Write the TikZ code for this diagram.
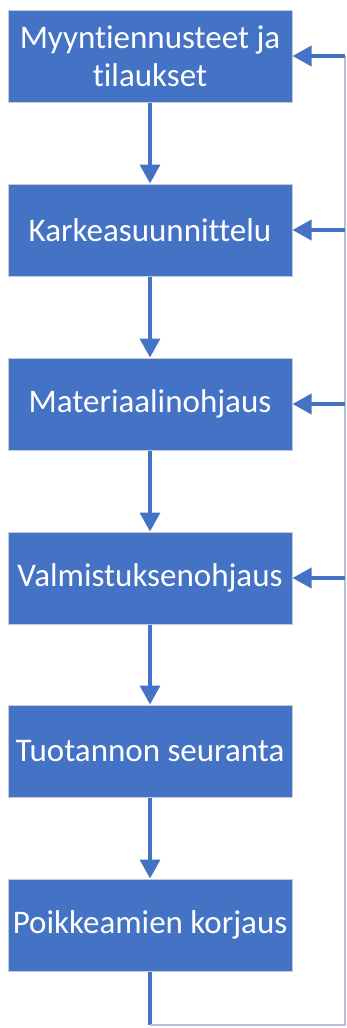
\documentclass[tikz,border=0pt]{standalone}
\usepackage{fontspec}
\setmainfont[Ligatures=NoCommon]{Carlito}
\usetikzlibrary{arrows.meta}
\definecolor{boxblue}{RGB}{68,114,196}
\definecolor{boxedge}{RGB}{196,202,214}
\definecolor{loopline}{RGB}{176,190,222}
\begin{document}
\begin{tikzpicture}[x=1pt,y=-1pt,
  stepbox/.style={draw=boxedge, line width=1pt, fill=boxblue, text=white,
    minimum width=284pt, minimum height=92pt, inner sep=2pt, align=center,
    font=\fontsize{33}{38}\selectfont},
  flow/.style={draw=boxblue, line width=3.6pt,
    -{Triangle[width=20pt,length=19pt]}},
  back/.style={draw=loopline, line width=1.2pt}
]
\useasboundingbox (0,0) rectangle (346,1028);

\node[stepbox] (b1) at (150,56)  {Myyntiennusteet ja\\tilaukset};
\node[stepbox] (b2) at (150,230) {Karkeasuunnittelu};
\node[stepbox] (b3) at (150,404) {Materiaalinohjaus};
\node[stepbox] (b4) at (150,578) {Valmistuksenohjaus};
\node[stepbox] (b5) at (150,751) {Tuotannon seuranta};
\node[stepbox] (b6) at (150,925) {Poikkeamien korjaus};

% downward flow between steps
\draw[flow] (b1) -- (b2);
\draw[flow] (b2) -- (b3);
\draw[flow] (b3) -- (b4);
\draw[flow] (b4) -- (b5);
\draw[flow] (b5) -- (b6);

% feedback loop back to the first four steps
\coordinate (c0) at (150,1025);
\coordinate (c1) at (345,1025);
\coordinate (c2) at (345,56);
\draw[boxblue, line width=3.6pt] (b6.south) -- (c0);
\draw[back] (c0) -- (c1) -- (c2);
\foreach \b in {b1,b2,b3,b4}{
  \coordinate (r\b) at (345,0 |- \b.east);
  \draw[flow] (r\b) -- (\b.east);
}
\end{tikzpicture}
\end{document}
